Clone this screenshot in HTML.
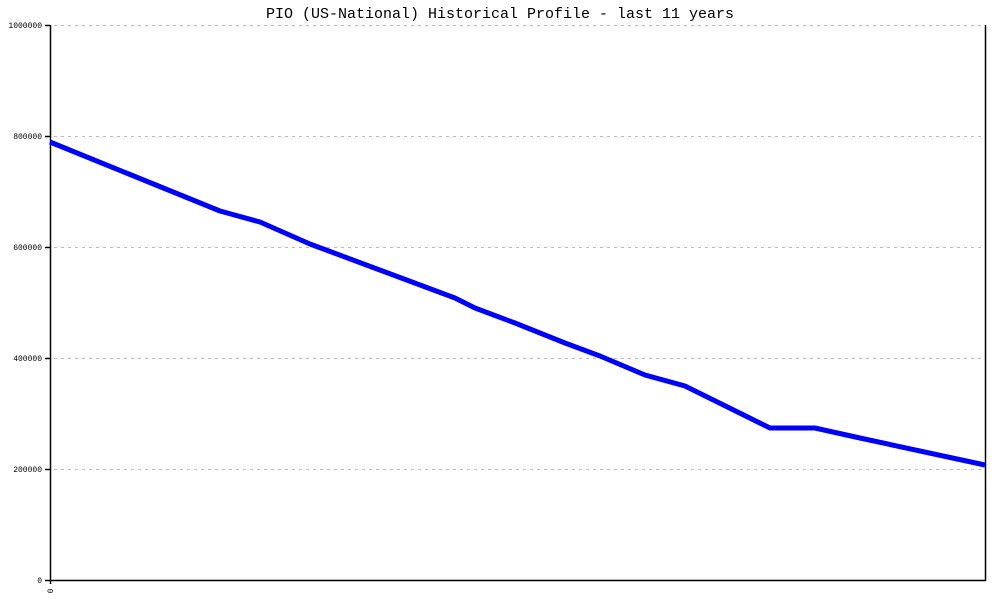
<!DOCTYPE html>
<html><head><meta charset="utf-8"><style>
body{margin:0;background:#fff;}
svg{display:block;}
text{font-family:"Liberation Mono",monospace;}
</style></head><body>
<svg width="1000" height="600" viewBox="0 0 1000 600" xmlns="http://www.w3.org/2000/svg">
<rect width="1000" height="600" fill="#fff"/>
<text x="500" y="18" text-anchor="middle" font-size="15" fill="#000">PIO (US-National) Historical Profile - last 11 years</text>
<g stroke="#bbb" stroke-width="1" stroke-dasharray="3,4">
<line x1="54" y1="25.5" x2="985" y2="25.5"/>
<line x1="54" y1="136.5" x2="985" y2="136.5"/>
<line x1="54" y1="247.5" x2="985" y2="247.5"/>
<line x1="54" y1="358.5" x2="985" y2="358.5"/>
<line x1="54" y1="469.5" x2="985" y2="469.5"/>
</g>
<g stroke="#000" stroke-width="1.5">
<line x1="50.5" y1="25" x2="50.5" y2="584"/>
<line x1="50" y1="580.5" x2="985.5" y2="580.5"/>
<line x1="985.5" y1="25" x2="985.5" y2="581"/>
<line x1="45" y1="25.5" x2="50" y2="25.5"/>
<line x1="45" y1="136.5" x2="50" y2="136.5"/>
<line x1="45" y1="247.5" x2="50" y2="247.5"/>
<line x1="45" y1="358.5" x2="50" y2="358.5"/>
<line x1="45" y1="469.5" x2="50" y2="469.5"/>
<line x1="45" y1="580.5" x2="50" y2="580.5"/>
</g>
<g font-size="8" text-anchor="end" fill="#000">
<text x="42" y="28">1000000</text>
<text x="42" y="139">800000</text>
<text x="42" y="250">600000</text>
<text x="42" y="361">400000</text>
<text x="42" y="472">200000</text>
<text x="42" y="583">0</text>
</g>
<text x="0" y="0" font-size="8" transform="translate(53,591) rotate(-90)" text-anchor="middle">0</text>
<polyline fill="none" stroke="#0000ff" stroke-width="5" stroke-linejoin="round"
points="50,142 220,211 260,222 310,244 455,298 475,308 515,323 565,343 600,356 645,375 685,386 770,428 815,428 860,438 985,465"/>
</svg>
</body></html>
